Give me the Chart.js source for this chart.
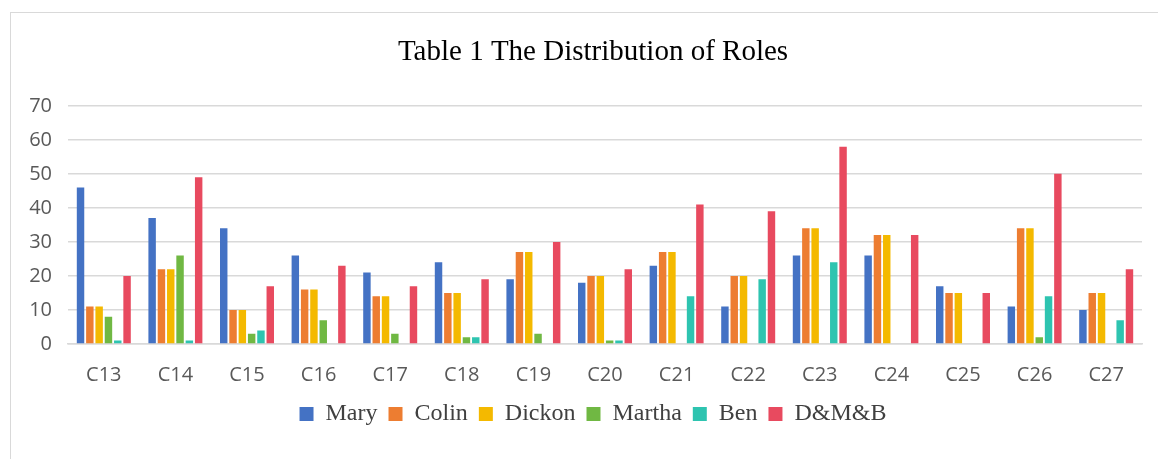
<!DOCTYPE html>
<html>
<head>
<meta charset="utf-8">
<script src="https://cdn.jsdelivr.net/npm/chart.js@4"></script>
<style>
  html, body { margin: 0; padding: 0; background: #fff; }
  #frame { position: absolute; left: 10px; top: 12px; width: 1160px; height: 460px; border: 1px solid #d9d9d9; }
  #wrap { position: absolute; left: 0; top: 0; width: 1158px; height: 459px; }
</style>
</head>
<body>
<div id="frame"></div>
<div id="wrap"><canvas id="chart" width="1158" height="459"></canvas></div>
<script>
const chapters = ["C13", "C14", "C15", "C16", "C17", "C18", "C19", "C20", "C21", "C22", "C23", "C24", "C25", "C26", "C27"];
const mary   = [46, 37, 34, 26, 21, 24, 19, 18, 23, 11, 26, 26, 17, 11, 10];
const colin  = [11, 22, 10, 16, 14, 15, 27, 20, 27, 20, 34, 32, 15, 34, 15];
const dickon = [11, 22, 10, 16, 14, 15, 27, 20, 27, 20, 34, 32, 15, 34, 15];
const martha = [8, 26, 3, 7, 3, 2, 3, 1, 0, 0, 0, 0, 0, 2, 0];
const ben    = [1, 1, 4, 0, 0, 2, 0, 1, 14, 19, 24, 0, 0, 14, 7];
const dmb    = [20, 49, 17, 23, 17, 19, 30, 22, 41, 39, 58, 32, 15, 50, 22];
const yTicks = [0, 10, 20, 30, 40, 50, 60, 70];

const serif = "'Liberation Serif', 'Times New Roman', serif";
const sans = "'Open Sans', 'Noto Sans', sans-serif";

const series = [
  { label: "Mary", data: mary, color: "#4472c4" },
  { label: "Colin", data: colin, color: "#ed7d31" },
  { label: "Dickon", data: dickon, color: "#f4b900" },
  { label: "Martha", data: martha, color: "#70b843" },
  { label: "Ben", data: ben, color: "#2ec4b0" },
  { label: "D&M&B", data: dmb, color: "#e84a5f" },
];

new Chart(document.getElementById("chart").getContext("2d"), {
  type: "bar",
  data: {
    labels: chapters,
    datasets: series.map(s => ({
      label: s.label,
      data: s.data,
      backgroundColor: s.color,
      categoryPercentage: 0.78,
      barPercentage: 0.8,
    })),
  },
  options: {
    responsive: false,
    animation: false,
    layout: { padding: { left: 28, right: 0, top: 24, bottom: 23 } },
    plugins: {
      title: {
        display: true,
        text: "Table 1 The Distribution of Roles",
        color: "#000",
        font: { family: serif, size: 29, weight: "normal" },
        padding: { top: 11, bottom: 36 },
      },
      legend: {
        position: "bottom",
        labels: {
          color: "#404040",
          font: { family: serif, size: 24 },
          boxWidth: 14,
          boxHeight: 14,
          padding: 11,
        },
      },
      tooltip: { enabled: false },
    },
    scales: {
      x: {
        grid: { display: false, drawTicks: false },
        border: { color: "#d9d9d9", width: 1.5 },
        ticks: { color: "#595959", font: { family: sans, size: 20 }, padding: 19 },
        afterFit: axis => { axis.height = 47; },
      },
      y: {
        min: 0,
        max: 70,
        afterBuildTicks: axis => { axis.ticks = yTicks.map(v => ({ value: v })); },
        grid: { color: "#d9d9d9", lineWidth: 1.5, drawTicks: false },
        border: { display: false },
        ticks: { color: "#595959", font: { family: sans, size: 20 }, padding: 16 },
        afterFit: axis => { axis.width = 40; },
      },
      // empty right-hand spacer, keeps the plot area off the right edge
      spacer: {
        type: "linear",
        position: "right",
        grid: { display: false, drawTicks: false },
        border: { display: false },
        ticks: { display: false },
        afterFit: axis => { axis.width = 16; },
      },
    },
  },
});
</script>
</body>
</html>
